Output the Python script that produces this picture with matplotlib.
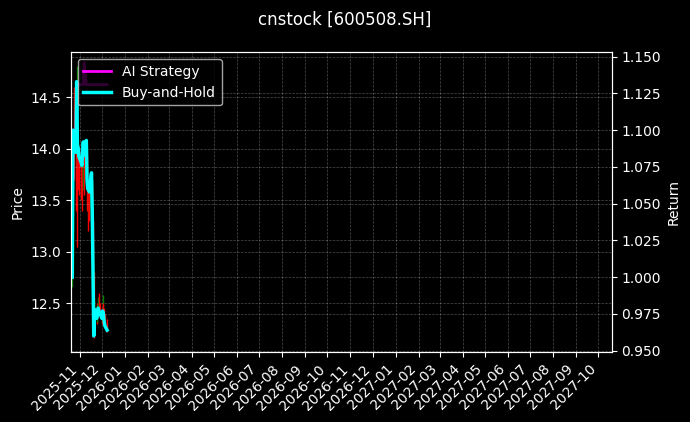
import matplotlib
matplotlib.use('Agg')
import matplotlib.pyplot as plt
import matplotlib.dates as mdates
import numpy as np
import pandas as pd

# ---- data ----
dates = pd.to_datetime([
    "2025-10-22", "2025-10-23", "2025-10-24", "2025-10-27", "2025-10-28",
    "2025-10-29", "2025-10-30", "2025-10-31", "2025-11-03", "2025-11-04",
    "2025-11-05", "2025-11-06", "2025-11-07", "2025-11-10", "2025-11-11",
    "2025-11-12", "2025-11-13", "2025-11-14", "2025-11-17", "2025-11-18",
    "2025-11-19", "2025-11-20", "2025-11-21", "2025-11-24", "2025-11-25",
    "2025-11-26", "2025-11-27", "2025-11-28", "2025-12-01", "2025-12-02",
    "2025-12-03", "2025-12-04", "2025-12-05", "2025-12-08",
])
opens = [12.70, 12.80, 14.10, 13.90, 13.85, 14.30, 13.95, 13.85, 13.75, 13.72,
         13.68, 13.82, 13.90, 13.75, 13.88, 13.55, 13.45, 13.55, 13.45, 13.60,
         13.25, 12.70, 12.25, 12.45, 12.38, 12.40, 12.48, 12.44, 12.40, 12.36,
         12.45, 12.40, 12.35, 12.30]
highs = [12.85, 14.00, 14.60, 14.20, 14.80, 14.40, 14.05, 13.98, 13.90, 13.85,
         13.95, 14.05, 13.95, 14.00, 13.92, 13.65, 13.60, 13.60, 13.70, 13.65,
         13.30, 12.80, 12.55, 12.50, 12.48, 12.56, 12.60, 12.50, 12.45, 12.58,
         12.50, 12.45, 12.40, 12.35]
lows = [12.66, 12.78, 13.70, 13.40, 13.80, 13.05, 13.60, 13.55, 13.50, 13.40,
        13.60, 13.70, 13.55, 13.65, 13.40, 13.20, 13.35, 13.30, 13.40, 13.20,
        12.75, 12.16, 12.20, 12.30, 12.32, 12.38, 12.40, 12.36, 12.30, 12.34,
        12.35, 12.30, 12.26, 12.22]
closes = [12.73, 14.00, 13.94, 13.81, 14.42, 13.88, 13.85, 13.77, 13.72, 13.70,
          13.81, 13.90, 13.79, 13.91, 13.57, 13.49, 13.53, 13.47, 13.63, 13.30,
          12.79, 12.22, 12.45, 12.37, 12.41, 12.46, 12.44, 12.42, 12.37, 12.44,
          12.41, 12.35, 12.31, 12.27]
ai_strategy = [1.000, 1.100, 1.095, 1.085, 1.133, 1.131, 1.131, 1.131, 1.131, 1.131,
               1.131, 1.131, 1.146, 1.131, 1.131, 1.131, 1.131, 1.131, 1.131, 1.131,
               1.131, 1.131, 1.131, 1.131, 1.131, 1.131, 1.131, 1.131, 1.131, 1.131,
               1.131, 1.131, 1.131, 1.131]
buy_hold = [1.000, 1.100, 1.095, 1.085, 1.133, 1.090, 1.088, 1.082, 1.078, 1.076,
            1.085, 1.092, 1.083, 1.093, 1.066, 1.060, 1.063, 1.058, 1.071, 1.045,
            1.005, 0.960, 0.978, 0.972, 0.975, 0.979, 0.977, 0.976, 0.972, 0.977,
            0.975, 0.970, 0.967, 0.964]
title = "cnstock [600508.SH]"

plt.style.use('dark_background')

fig = plt.figure(figsize=(6.9, 4.22), dpi=100)
ax = fig.add_axes([0.1025, 0.1652, 0.784, 0.7109])

o = np.array(opens); h = np.array(highs); l = np.array(lows); c = np.array(closes)
cols = np.where(c >= o, 'green', 'red')
ax.vlines(dates, l, h, colors=cols, linewidth=1)
ax.bar(dates, np.maximum(np.abs(c - o), 0.01), bottom=np.minimum(o, c),
       width=0.7, color=cols, linewidth=0)
ax.set_ylabel('Price')
ax.set_ylim(12.024, 14.937)
ax.grid(True, linestyle='--', linewidth=0.5, alpha=0.3)

ax2 = ax.twinx()
ax2.plot(dates, ai_strategy, color='magenta', linewidth=2, label='AI Strategy')
ax2.plot(dates, buy_hold, color='cyan', linewidth=2.5, label='Buy-and-Hold')
ax2.set_ylabel('Return')
ax2.set_ylim(0.9489, 1.153)
ax2.grid(True, linestyle='--', linewidth=0.5, alpha=0.3)
ax2.legend(loc='upper left')

ax.set_xlim(pd.Timestamp("2025-10-20"), pd.Timestamp("2027-10-19"))
ax.xaxis.set_major_locator(mdates.MonthLocator())
ax.xaxis.set_major_formatter(mdates.DateFormatter('%Y-%m'))
for lab in ax.get_xticklabels():
    lab.set_rotation(45)
    lab.set_ha('right')

fig.suptitle(title, fontsize=12, y=0.975)
fig.savefig('out.png', dpi=100)
